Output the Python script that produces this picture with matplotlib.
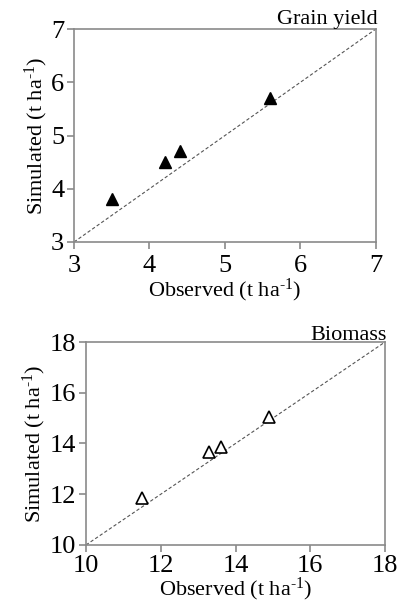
import matplotlib
matplotlib.use("Agg")
import matplotlib.pyplot as plt

plt.rcParams['font.family'] = ['Liberation Serif', 'DejaVu Serif']
plt.rcParams['mathtext.fontset'] = 'custom'
plt.rcParams['mathtext.rm'] = 'Liberation Serif'
plt.rcParams['mathtext.it'] = 'Liberation Serif:italic'

# Grain yield (t/ha)
grain_obs = [3.5, 4.2, 4.4, 5.6]
grain_sim = [3.8, 4.5, 4.7, 5.7]
grain_ticks = [3, 4, 5, 6, 7]

# Biomass (t/ha)
bio_obs = [11.5, 13.3, 13.6, 14.9]
bio_sim = [11.85, 13.65, 13.85, 15.05]
bio_ticks = [10, 12, 14, 16, 18]

fig = plt.figure(figsize=(3.99, 6.05), dpi=100)
ax1 = fig.add_axes([0.1855, 0.600, 0.7565, 0.352])
ax2 = fig.add_axes([0.2155, 0.0992, 0.7495, 0.3355])

SPINE = '#8a8a8a'
UNIT = r' (t ha$^{\text{-1}}$)'


def style(ax, ticks, title, title_y, xpad, xlabelpad):
    lo, hi = ticks[0], ticks[-1]
    ax.plot([lo, hi], [lo, hi], linestyle=(0, (3, 2)), color='#555555', lw=0.8, zorder=1)
    ax.set_xlim(lo, hi)
    ax.set_ylim(lo, hi)
    ax.set_xticks(ticks)
    ax.set_yticks(ticks)
    for s in ax.spines.values():
        s.set_color(SPINE)
        s.set_linewidth(1.2)
    ax.tick_params(direction='out', length=5, width=1.2, color=SPINE,
                   labelsize=19)
    ax.tick_params(axis='x', pad=xpad)
    ax.tick_params(axis='y', pad=2)
    ax.set_xlabel('Observed' + UNIT, fontsize=16, labelpad=xlabelpad)
    ax.set_ylabel('Simulated' + UNIT, fontsize=16, labelpad=1)
    ax.text(1.005, title_y, title, transform=ax.transAxes, ha='right', va='bottom',
            fontsize=16)


style(ax1, grain_ticks, 'Grain yield', 1.0, 4, 0)
ax1.plot(grain_obs, grain_sim, linestyle='none', marker='^', markersize=8,
         color='black', zorder=3)

style(ax2, bio_ticks, 'Biomass', 0.985, 2, -1)
ax2.plot(bio_obs, bio_sim, linestyle='none', marker='^', markersize=8,
         markerfacecolor='white', markeredgecolor='black', markeredgewidth=1.2,
         zorder=3)

fig.savefig('out.png', dpi=100)
